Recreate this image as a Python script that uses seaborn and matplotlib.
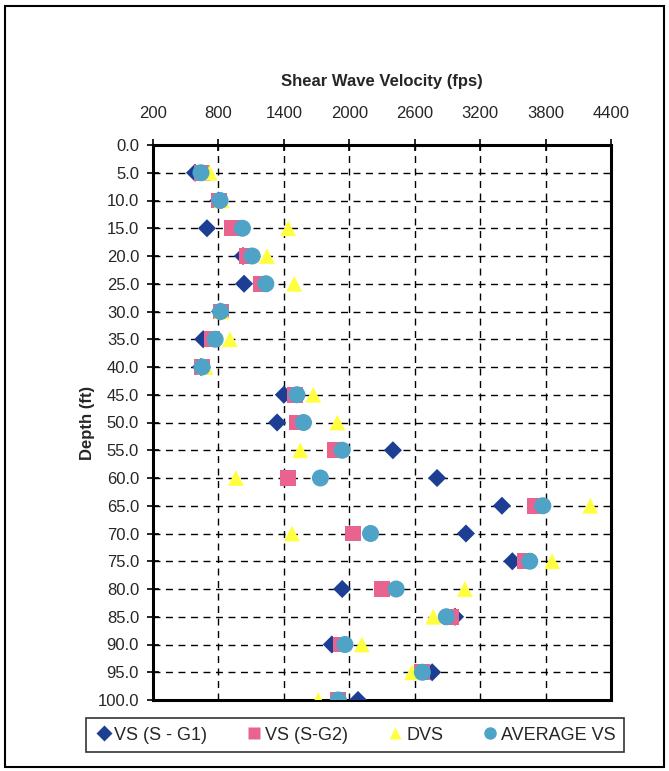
import matplotlib
matplotlib.use("Agg")
import matplotlib.pyplot as plt
import matplotlib.patches as mpatches
import seaborn as sns
import pandas as pd
import numpy as np

depth = [5, 10, 15, 20, 25, 30, 35, 40, 45, 50, 55, 60, 65, 70, 75, 80, 85, 90, 95, 100]
vs_g1 = [585, 800, 695, 1025, 1035, 815, 660, 640, 1400, 1338, 2400, 2805, 3400, 3070, 3495, 1935, 2970, 1840, 2760, 2080]
vs_g2 = [650, 805, 925, 1060, 1190, 820, 740, 650, 1500, 1520, 1870, 1440, 3705, 2035, 3610, 2300, 2930, 1920, 2670, 1900]
dvs = [720, 830, 1440, 1245, 1495, 830, 905, 680, 1670, 1890, 1550, 960, 4210, 1475, 3860, 3060, 2770, 2115, 2575, 1715]
avg_vs = [640, 815, 1020, 1110, 1235, 820, 770, 650, 1520, 1580, 1935, 1735, 3775, 2195, 3655, 2430, 2890, 1960, 2670, 1900]

series_names = ["VS (S - G1)", "VS (S-G2)", "DVS", "AVERAGE VS"]
x_ticks = [200, 800, 1400, 2000, 2600, 3200, 3800, 4400]
y_ticks = [0, 5, 10, 15, 20, 25, 30, 35, 40, 45, 50, 55, 60, 65, 70, 75, 80, 85, 90, 95, 100]

rows = []
for name, vals in zip(series_names, [vs_g1, vs_g2, dvs, avg_vs]):
    for d, v in zip(depth, vals):
        rows.append({"Series": name, "Velocity": v, "Depth": d})
df = pd.DataFrame(rows)

sns.set_theme(style="white")
plt.rcParams['font.family'] = ['Liberation Sans', 'DejaVu Sans']

colors = {"VS (S - G1)": "#1C3F94", "VS (S-G2)": "#E8648E", "DVS": "#FFFF40", "AVERAGE VS": "#4FA3C7"}
markers = {"VS (S - G1)": "D", "VS (S-G2)": "s", "DVS": "^", "AVERAGE VS": "o"}
sizes = {"VS (S - G1)": 85, "VS (S-G2)": 130, "DVS": 130, "AVERAGE VS": 150}

fig = plt.figure(figsize=(6.69, 7.71), dpi=100)
ax = fig.add_axes([153/669, 1-700/771, (611-153)/669, (700-145)/771])

for name in series_names:
    sub = df[df["Series"] == name]
    sns.scatterplot(data=sub, x="Velocity", y="Depth", ax=ax, color=colors[name],
                    marker=markers[name], s=sizes[name], edgecolor="none",
                    label=name, zorder=3 + series_names.index(name), legend=False)

ax.set_xlim(200, 4400)
ax.set_ylim(100, 0)
ax.set_xticks(x_ticks)
ax.set_yticks(y_ticks)
ax.set_yticklabels([f"{t:.1f}" for t in y_ticks], fontsize=12)
ax.set_xticklabels([str(t) for t in x_ticks], fontsize=12)
ax.xaxis.tick_top()
ax.xaxis.set_label_position("top")
ax.set_xlabel("Shear Wave Velocity (fps)", fontsize=12, fontweight="bold", labelpad=15)
ax.set_ylabel("Depth (ft)", fontsize=12, fontweight="bold", labelpad=2)
ax.tick_params(axis="both", direction="inout", length=8, width=1.2, color="black",
               top=True, bottom=False, left=True, right=False)
ax.tick_params(axis="x", pad=13)
ax.tick_params(axis="y", pad=6)
ax.grid(True, color="black", linestyle=(0, (5, 4)), linewidth=1.0)
ax.set_axisbelow(True)
for sp in ax.spines.values():
    sp.set_color("black")
    sp.set_linewidth(2.2)
    sp.set_visible(True)

handles = [plt.Line2D([], [], linestyle="none", marker=markers[n], color=colors[n],
                      markersize=9 if n != "VS (S - G1)" else 8, markeredgecolor="none")
           for n in series_names]
leg = fig.legend(handles, series_names, loc="center", bbox_to_anchor=(355/669, 1-735/771),
                 ncol=4, frameon=True, fontsize=13, handletextpad=0.1, columnspacing=2.1,
                 handlelength=1.0, borderpad=0.45, fancybox=False, edgecolor="black")
leg.get_frame().set_linewidth(1.2)

fig.patches.append(mpatches.Rectangle((5/669, 1-767/771), 659/669, 761/771,
                                      transform=fig.transFigure, fill=False,
                                      edgecolor="black", linewidth=1.5))

fig.savefig("out.png", dpi=100)
